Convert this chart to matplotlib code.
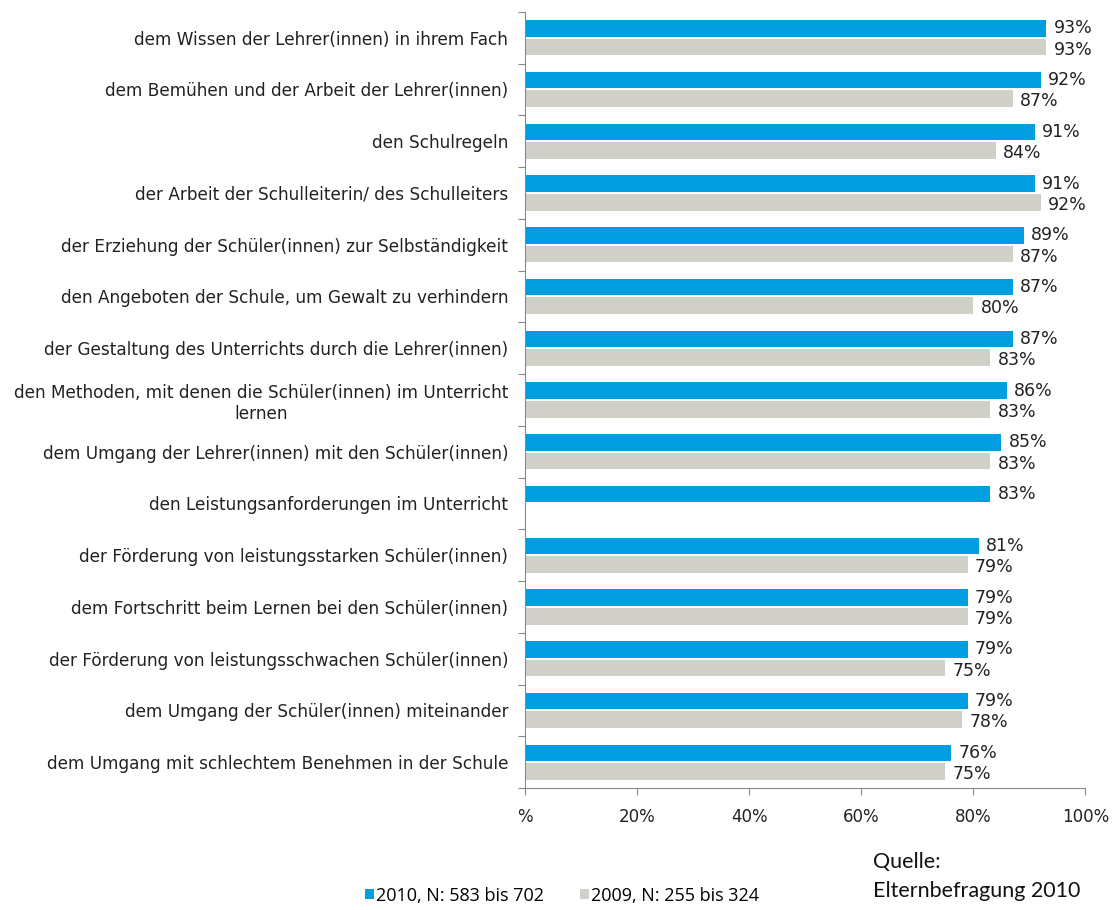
import matplotlib.pyplot as plt
import numpy as np

categories = [
    "dem Wissen der Lehrer(innen) in ihrem Fach",
    "dem Bemühen und der Arbeit der Lehrer(innen)",
    "den Schulregeln",
    "der Arbeit der Schulleiterin/ des Schulleiters",
    "der Erziehung der Schüler(innen) zur Selbständigkeit",
    "den Angeboten der Schule, um Gewalt zu verhindern",
    "der Gestaltung des Unterrichts durch die Lehrer(innen)",
    "den Methoden, mit denen die Schüler(innen) im Unterricht\nlernen",
    "dem Umgang der Lehrer(innen) mit den Schüler(innen)",
    "den Leistungsanforderungen im Unterricht",
    "der Förderung von leistungsstarken Schüler(innen)",
    "dem Fortschritt beim Lernen bei den Schüler(innen)",
    "der Förderung von leistungsschwachen Schüler(innen)",
    "dem Umgang der Schüler(innen) miteinander",
    "dem Umgang mit schlechtem Benehmen in der Schule",
]
values_2010 = [93, 92, 91, 91, 89, 87, 87, 86, 85, 83, 81, 79, 79, 79, 76]
values_2009 = [93, 87, 84, 92, 87, 80, 83, 83, 83, None, 79, 79, 75, 78, 75]
xticks = [0, 20, 40, 60, 80, 100]
xtick_labels = ["%", "20%", "40%", "60%", "80%", "100%"]

BLUE = "#009EE0"
GRAY = "#D1D0C8"

plt.rcParams["font.family"] = ["DejaVu Sans"]

fig = plt.figure(figsize=(11.13, 9.10), dpi=100)
ax = fig.add_axes([0.4717, 0.134, 0.5035, 0.853])

n = len(categories)
y = np.arange(n)
h = 0.32
off = 0.18

ax.barh(y - off, values_2010, height=h, color=BLUE, label="2010, N: 583 bis 702")
v09 = [np.nan if v is None else v for v in values_2009]
ax.barh(y + off, v09, height=h, color=GRAY, label="2009, N: 255 bis 324")

for i, v in enumerate(values_2010):
    ax.text(v + 1.3, i - off, f"{v}%", va="center", ha="left", fontsize=12.5, color="#222222")
for i, v in enumerate(values_2009):
    if v is not None:
        ax.text(v + 1.3, i + off + 0.05, f"{v}%", va="center", ha="left", fontsize=12.5, color="#222222")

ax.set_ylim(n - 0.5, -0.5)
ax.set_xlim(0, 100)
ax.set_yticks(np.arange(n + 1) - 0.5, minor=False)
ax.set_yticklabels([])
ax.set_yticks(y, minor=True)
ax.set_yticklabels(categories, minor=True, fontsize=12.2, color="#222222", multialignment="center")
ax.tick_params(axis="y", which="minor", length=0, pad=12)
ax.tick_params(axis="y", which="major", length=5, color="#888888")

ax.set_xticks(xticks)
ax.set_xticklabels(xtick_labels, fontsize=12, color="#222222")
ax.tick_params(axis="x", length=5, color="#888888", pad=9)

for s in ["top", "right"]:
    ax.spines[s].set_visible(False)
for s in ["left", "bottom"]:
    ax.spines[s].set_color("#888888")

leg = fig.legend(loc="lower center", bbox_to_anchor=(0.505, -0.012), ncol=2, frameon=False,
                 handlelength=0.5, handleheight=0.5, handletextpad=0.1, columnspacing=2.0,
                 prop={"family": "Open Sans", "size": 13})

fig.text(0.784, 0.01, "Quelle:\nElternbefragung 2010", fontsize=15.5, family="Lato",
         va="bottom", ha="left", linespacing=1.55, color="#111111")

fig.savefig("out.png", dpi=100)
